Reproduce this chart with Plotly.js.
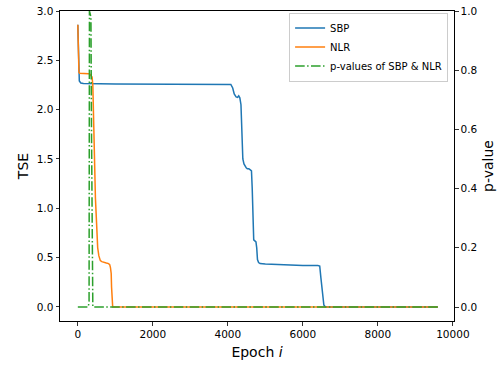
<!DOCTYPE html>
<html>
<head>
<meta charset="utf-8">
<script src="https://cdn.plot.ly/plotly-3.0.1.min.js"></script>
<style>html,body{margin:0;padding:0;background:#fff;}#chart{width:504px;height:365px;}</style>
</head>
<body>
<div id="chart"></div>
<script>
// SBP training error (TSE) per epoch
const sbpEpochs = [0, 10, 20, 40, 80, 150, 1000, 2000, 3000, 3950, 4080, 4130, 4170, 4220, 4260, 4290, 4320, 4350, 4380, 4400, 4430, 4460, 4490, 4520, 4560, 4600, 4630, 4650, 4670, 4690, 4720, 4750, 4770, 4790, 4820, 4860, 5000, 5300, 5600, 6000, 6400, 6450, 6480, 6500, 6530, 6560, 6600, 7000, 8000, 9600];
const sbpTSE    = [2.86, 2.6, 2.35, 2.29, 2.27, 2.265, 2.26, 2.26, 2.26, 2.26, 2.255, 2.22, 2.16, 2.13, 2.125, 2.14, 2.12, 2.05, 1.75, 1.50, 1.45, 1.42, 1.41, 1.40, 1.40, 1.39, 1.38, 1.20, 0.80, 0.68, 0.67, 0.66, 0.60, 0.48, 0.45, 0.44, 0.435, 0.43, 0.425, 0.42, 0.42, 0.415, 0.30, 0.22, 0.10, 0.02, 0.0, 0.0, 0.0, 0.0];

// NLR training error (TSE) per epoch
const nlrEpochs = [0, 10, 20, 30, 50, 100, 200, 280, 320, 350, 380, 400, 420, 440, 470, 500, 530, 560, 580, 600, 640, 700, 760, 820, 850, 870, 880, 890, 900, 915, 930, 1000, 2000, 5000, 9600];
const nlrTSE    = [2.86, 2.7, 2.45, 2.38, 2.37, 2.37, 2.37, 2.365, 2.36, 2.35, 2.33, 2.25, 1.9, 1.5, 1.1, 0.85, 0.6, 0.52, 0.49, 0.47, 0.46, 0.45, 0.445, 0.44, 0.43, 0.40, 0.36, 0.34, 0.2, 0.02, 0.0, 0.0, 0.0, 0.0, 0.0];

// p-values of SBP & NLR
const pEpochs = [0, 280, 300, 310, 330, 350, 365, 380, 400, 1000, 5000, 9600];
const pValues = [0, 0, 0.02, 1.0, 0.99, 0.98, 0.6, 0.0, 0.0, 0.0, 0.0, 0.0];

const seriesNames = ["SBP", "NLR", "p-values of SBP & NLR"];
const xTicks = [0, 2000, 4000, 6000, 8000, 10000];
const yTicks = [0.0, 0.5, 1.0, 1.5, 2.0, 2.5, 3.0];
const y2Ticks = [0.0, 0.2, 0.4, 0.6, 0.8, 1.0];

const font = "DejaVu Sans, sans-serif";
const traces = [
  {x: sbpEpochs, y: sbpTSE, name: seriesNames[0], type: "scatter", mode: "lines",
   line: {color: "#1f77b4", width: 1.5}},
  {x: nlrEpochs, y: nlrTSE, name: seriesNames[1], type: "scatter", mode: "lines",
   line: {color: "#ff7f0e", width: 1.5}},
  {x: pEpochs, y: pValues, name: seriesNames[2], type: "scatter", mode: "lines", yaxis: "y2",
   line: {color: "#2ca02c", width: 1.5, dash: "9.6px,2.4px,1.5px,2.4px"}}
];

const axisCommon = {
  showgrid: false, zeroline: false, showline: true, linecolor: "#000", linewidth: 1,
  ticks: "outside", ticklen: 3.5, tickwidth: 0.8, tickcolor: "#000",
  tickfont: {family: font, size: 10.5, color: "#000"}
};

const layout = {
  width: 504, height: 365,
  margin: {l: 60, r: 50, t: 11, b: 44},
  paper_bgcolor: "#fff", plot_bgcolor: "#fff",
  font: {family: font, color: "#000"},
  xaxis: Object.assign({}, axisCommon, {
    range: [-475, 10030], tickvals: xTicks, ticktext: xTicks.map(String), mirror: true,
    title: {text: "Epoch <i>i</i>", font: {family: font, size: 14}, standoff: 8}
  }),
  yaxis: Object.assign({}, axisCommon, {
    range: [-0.142, 3.0], tickvals: yTicks, ticktext: yTicks.map(v => v.toFixed(1)),
    title: {text: "TSE", font: {family: font, size: 14}, standoff: 4}
  }),
  yaxis2: Object.assign({}, axisCommon, {
    overlaying: "y", side: "right", range: [-0.0473, 1.0],
    tickvals: y2Ticks, ticktext: y2Ticks.map(v => v.toFixed(1)),
    title: {text: "p-value", font: {family: font, size: 14}, standoff: 6}
  }),
  showlegend: true,
  legend: {
    x: 0.985, y: 0.995, xanchor: "right", yanchor: "top",
    bgcolor: "rgba(255,255,255,0.8)", bordercolor: "#cccccc", borderwidth: 1,
    font: {family: font, size: 10, color: "#000"},
    itemwidth: 30, tracegroupgap: 0
  }
};

Plotly.newPlot("chart", traces, layout, {staticPlot: true, displayModeBar: false});
</script>
</body>
</html>
